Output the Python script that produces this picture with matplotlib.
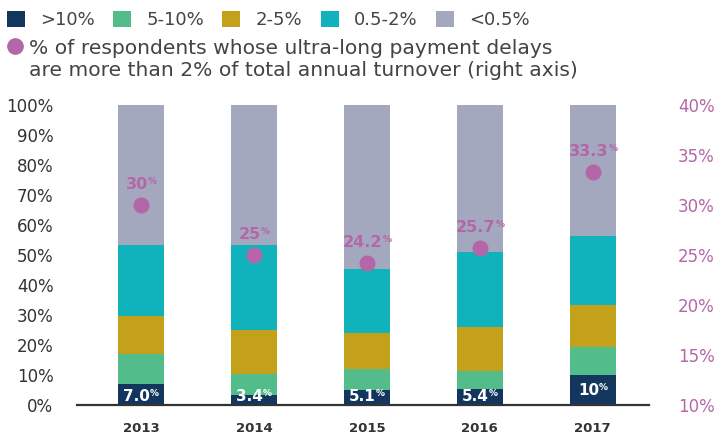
import numpy as np
import matplotlib
matplotlib.use("Agg")
from matplotlib import pyplot as plt
from matplotlib.patches import Patch
from matplotlib.lines import Line2D

plt.rcParams['font.family'] = ['DejaVu Sans']

years = ['2013', '2014', '2015', '2016', '2017']
over10 = [7.0, 3.4, 5.1, 5.4, 10.0]
p5_10 = [10.0, 6.9, 6.9, 5.9, 9.3]
p2_5 = [12.7, 14.7, 12.0, 14.7, 14.0]
p05_2 = [23.6, 28.3, 21.3, 25.0, 23.0]
under05 = [46.7, 46.7, 54.7, 49.0, 43.7]
over10_labels = ['7.0', '3.4', '5.1', '5.4', '10']
delays = [30.0, 25.0, 24.2, 25.7, 33.3]
delay_labels = ['30', '25', '24.2', '25.7', '33.3']

series = [over10, p5_10, p2_5, p05_2, under05]
names = ['>10%', '5-10%', '2-5%', '0.5-2%', '<0.5%']
colors = ['#13365f', '#52bc8a', '#c4a11a', '#10b2bc', '#a3a8bf']
pink = '#b566a8'
txt = '#333333'
legtxt = '#444444'

W, H = 720, 436
fig = plt.figure(figsize=(7.2, 4.36), dpi=100)
ax = fig.add_axes([0.107, 0.071, 0.794, 0.688])
x = np.arange(len(years))

bottom = np.zeros(len(years))
for vals, c in zip(series, colors):
    ax.bar(x, vals, width=0.41, bottom=bottom, color=c)
    bottom += np.array(vals)

ax.set_xlim(-0.566, 4.496)
ax.set_ylim(0, 100)
ax.set_yticks(range(0, 101, 10))
ax.set_yticklabels([f'{v}%' for v in range(0, 101, 10)])
ax.set_xticks(x)
ax.set_xticklabels(years, fontweight='bold')
ax.tick_params(axis='y', length=0, pad=17, labelsize=12, labelcolor=txt)
ax.tick_params(axis='x', length=0, pad=12, labelsize=9.5, labelcolor=txt)
for s in ['top', 'right', 'left']:
    ax.spines[s].set_visible(False)
ax.spines['bottom'].set_linewidth(1.6)
ax.spines['bottom'].set_color('#333333')

# labels on >10% segment
for xi, v, lab in zip(x, over10, over10_labels):
    y = v / 2 if v > 8 else 2.7
    t = ax.annotate(lab, (xi, y), xytext=(-3, 0), textcoords='offset points',
                    ha='center', va='center', color='white',
                    fontsize=11, fontweight='bold')
    ax.annotate('%', xy=(1, 1), xycoords=t, ha='left', va='top',
                color='white', fontsize=6.5, fontweight='bold')

ax2 = ax.twinx()
ax2.set_ylim(10, 40)
ax2.set_yticks(range(10, 41, 5))
ax2.set_yticklabels([f'{v}%' for v in range(10, 41, 5)])
ax2.tick_params(axis='y', length=0, pad=21, labelsize=12, labelcolor=pink)
for s in ax2.spines.values():
    s.set_visible(False)

ax2.scatter(x, delays, s=110, color=pink, zorder=5)
for xi, v, lab in zip(x, delays, delay_labels):
    t = ax2.annotate(lab, (xi, v), xytext=(-3, 15), textcoords='offset points',
                     ha='center', va='center', color=pink,
                     fontsize=11.5, fontweight='bold')
    ax2.annotate('%', xy=(1, 1), xycoords=t, ha='left', va='top',
                 color=pink, fontsize=6.5, fontweight='bold')

# legends
handles = [Patch(facecolor=c, edgecolor='none') for c in colors]
leg1 = fig.legend(handles, names, ncol=5, loc='upper left',
                  bbox_to_anchor=(7 / W, 1 - 11 / H), frameon=False,
                  borderpad=0, borderaxespad=0,
                  fontsize=13, handlelength=1.0, handleheight=0.95,
                  handletextpad=0.85, columnspacing=1.0, labelcolor=legtxt)
dot = Line2D([], [], marker='o', color=pink, linestyle='none', markersize=11)
leg2 = fig.legend([dot], ['% of respondents whose ultra-long payment delays'],
                  loc='center left', bbox_to_anchor=(9 / W, 1 - 48 / H),
                  frameon=False, borderpad=0, borderaxespad=0,
                  fontsize=14.6, handlelength=0.6,
                  handletextpad=0.4, labelcolor=legtxt)
fig.text(29 / W, 1 - 70 / H,
         'are more than 2% of total annual turnover (right axis)',
         ha='left', va='center', fontsize=14.6, color=legtxt)

fig.savefig('out.png', dpi=100)
